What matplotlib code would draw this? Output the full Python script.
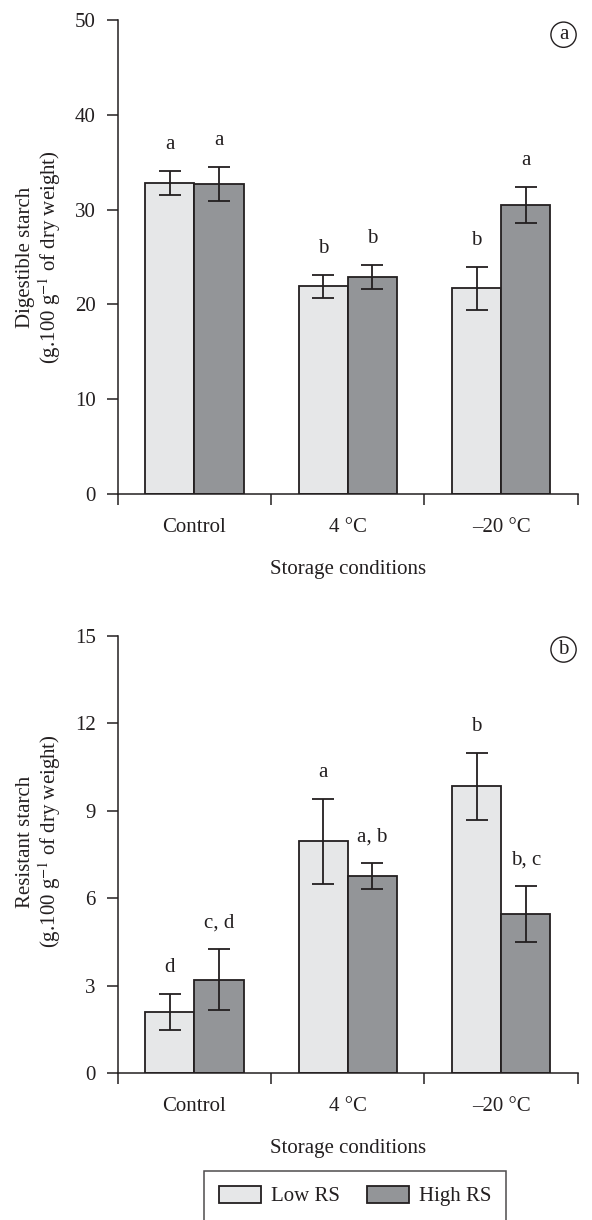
import numpy as np
import matplotlib.pyplot as plt
from matplotlib.patches import Patch

plt.rcParams['font.family'] = ['Liberation Serif', 'DejaVu Serif']
plt.rcParams['mathtext.fontset'] = 'stix'

categories = ['Control', '4 °C', '–20 °C']
series = ['Low RS', 'High RS']

# Digestible starch (panel a)
ds_low = [32.8, 21.9, 21.7]
ds_low_err = [1.3, 1.2, 2.3]
ds_high = [32.7, 22.9, 30.5]
ds_high_err = [1.8, 1.3, 1.9]
ds_low_lbl = ['a', 'b', 'b']
ds_high_lbl = ['a', 'b', 'a']

# Resistant starch (panel b)
rs_low = [2.1, 7.95, 9.85]
rs_low_err = [0.62, 1.46, 1.15]
rs_high = [3.2, 6.77, 5.45]
rs_high_err = [1.04, 0.44, 0.97]
rs_low_lbl = ['d', 'a', 'b']
rs_high_lbl = ['c, d', 'a, b', 'b, c']

ink = '#231f20'
c_low = '#e6e7e8'
c_high = '#939598'
fs = 15

fig = plt.figure(figsize=(5.92, 12.2), dpi=100)
ax1 = fig.add_axes([0.199, 0.595, 0.777, 0.3886])
ax2 = fig.add_axes([0.199, 0.1205, 0.777, 0.3582])


def panel(ax, low, low_err, high, high_err, low_lbl, high_lbl, ymax, yticks, ylabel, tag, ylab_y):
    x = np.arange(len(categories)) + 0.5
    w = 0.32
    ekw = dict(ecolor=ink, elinewidth=1.3, capsize=8, capthick=1.3)
    ax.bar(x - w / 2, low, w, yerr=low_err, color=c_low, edgecolor=ink,
           linewidth=1.3, error_kw=ekw, zorder=2)
    ax.bar(x + w / 2, high, w, yerr=high_err, color=c_high, edgecolor=ink,
           linewidth=1.3, error_kw=ekw, zorder=2)
    for i in range(len(categories)):
        ax.annotate(low_lbl[i], (x[i] - w / 2, low[i] + low_err[i]), xytext=(0, 19),
                    textcoords='offset points', ha='center', va='center', fontsize=fs, color=ink)
        ax.annotate(high_lbl[i], (x[i] + w / 2, high[i] + high_err[i]), xytext=(0, 19),
                    textcoords='offset points', ha='center', va='center', fontsize=fs, color=ink)
    ax.set_xlim(0, 3)
    ax.set_ylim(0, ymax)
    ax.set_yticks(yticks)
    ax.set_xticks([0, 1, 2, 3])
    ax.set_xticklabels([])
    ax.set_xticks(x, minor=True)
    ax.set_xticklabels(categories, minor=True)
    ax.tick_params(axis='x', which='minor', length=0, pad=17, labelsize=fs, colors=ink)
    ax.tick_params(axis='x', which='major', length=8, width=1.1, color=ink)
    ax.tick_params(axis='y', length=8, width=1.1, pad=8, labelsize=fs, colors=ink)
    for s in ['top', 'right']:
        ax.spines[s].set_visible(False)
    for s in ['left', 'bottom']:
        ax.spines[s].set_color(ink)
        ax.spines[s].set_linewidth(1.1)
    ax.set_xlabel('Storage conditions', fontsize=fs, color=ink, labelpad=17)
    ax.set_ylabel(ylabel, fontsize=fs, color=ink, linespacing=1.05)
    ax.yaxis.set_label_coords(-0.12, ylab_y)
    ax.text(0.969, 0.969, tag, transform=ax.transAxes, ha='center', va='center',
            fontsize=fs, color=ink,
            bbox=dict(boxstyle='circle,pad=0.15', fc='white', ec=ink, lw=1.0))


panel(ax1, ds_low, ds_low_err, ds_high, ds_high_err, ds_low_lbl, ds_high_lbl,
      50, [0, 10, 20, 30, 40, 50],
      'Digestible starch\n(g.100 g$^{-1}$ of dry weight)', 'a', 0.5)
panel(ax2, rs_low, rs_low_err, rs_high, rs_high_err, rs_low_lbl, rs_high_lbl,
      15, [0, 3, 6, 9, 12, 15],
      'Resistant starch\n(g.100 g$^{-1}$ of dry weight)', 'b', 0.53)

handles = [Patch(facecolor=c_low, edgecolor=ink, linewidth=1.3, label=series[0]),
           Patch(facecolor=c_high, edgecolor=ink, linewidth=1.3, label=series[1])]
leg = fig.legend(handles=handles, loc='upper center', bbox_to_anchor=(0.6, 1 - 1171 / 1220),
                 ncol=2, fontsize=fs, frameon=True, fancybox=False, edgecolor=ink,
                 handlelength=2.0, handleheight=0.9, handletextpad=0.5, columnspacing=1.3,
                 borderpad=0.7, borderaxespad=0)
leg.get_frame().set_linewidth(1.1)
for t in leg.get_texts():
    t.set_color(ink)

fig.savefig('out.png', dpi=100)
